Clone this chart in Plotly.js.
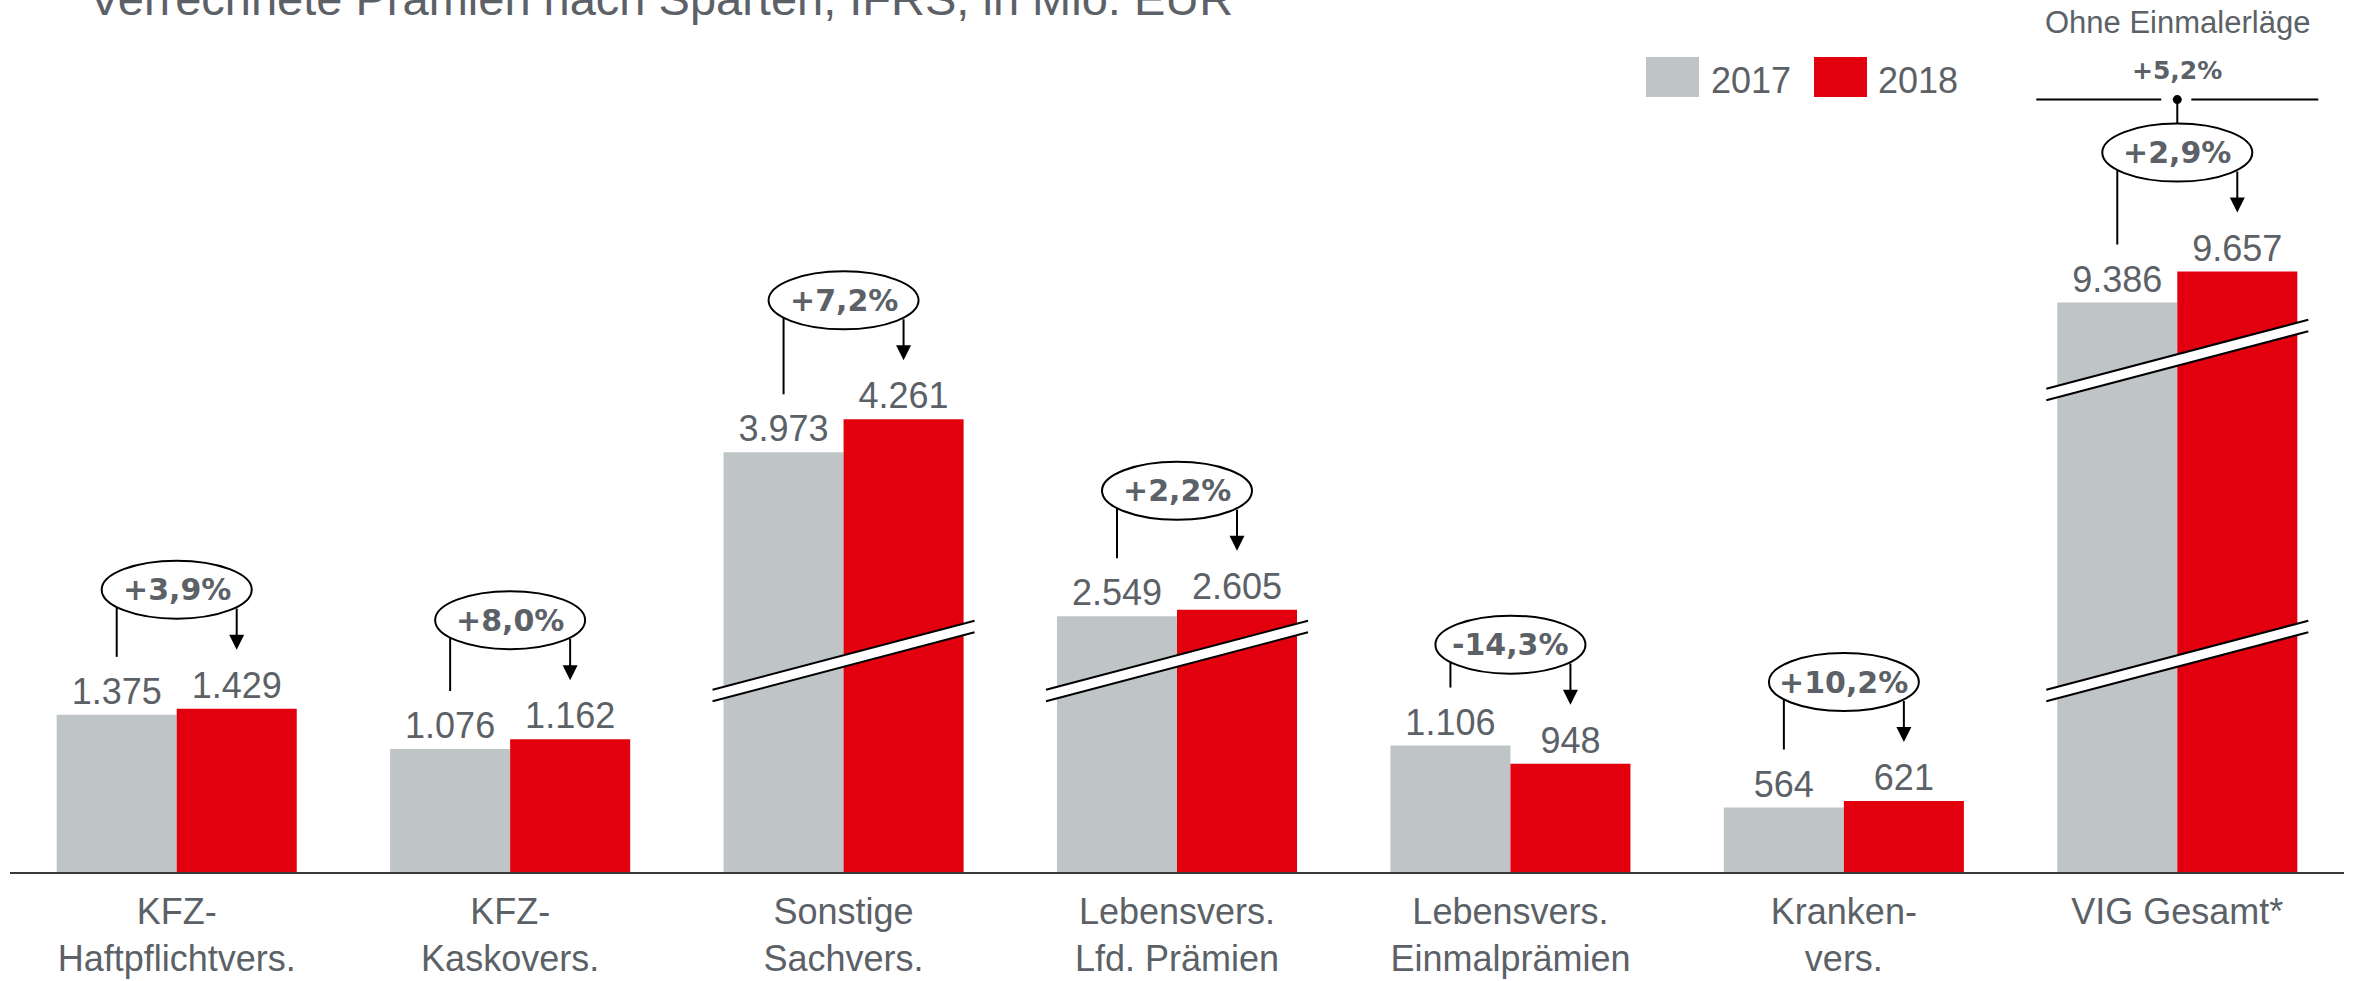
<!DOCTYPE html>
<html><head><meta charset="utf-8">
<script src="https://cdn.plot.ly/plotly-3.0.1.min.js"></script>
<style>html,body{margin:0;padding:0;background:#fff;} #chart{width:2354px;height:981px;}</style>
</head><body><div id="chart"></div>
<script>
// ---------- data ----------
const categories = ['KFZ-<br>Haftpflichtvers.', 'KFZ-<br>Kaskovers.', 'Sonstige<br>Sachvers.', 'Lebensvers.<br>Lfd. Prämien', 'Lebensvers.<br>Einmalprämien', 'Kranken-<br>vers.', 'VIG Gesamt*'];
const seriesNames = ['2017', '2018'];
const values2017 = [1375, 1076, 3973, 2549, 1106, 564, 9386];
const values2018 = [1429, 1162, 4261, 2605, 948, 621, 9657];
const changeLabels = ['+3,9%', '+8,0%', '+7,2%', '+2,2%', '-14,3%', '+10,2%', '+2,9%'];
const totalNote = 'Ohne Einmalerläge';
const totalNoteChange = '+5,2%';
const titleText = 'Verrechnete Prämien nach Sparten, IFRS, in Mio. EUR';

// ---------- display configuration ----------
const W = 2354, H = 981, M = {l: 10, r: 10, t: 0, b: 109};
const PX_PER_UNIT = 0.1143;
const axisBreak = [0, 0, 301, 311, 0, 0, 4404];      // amount cut out of broken bars
const CALLOUT_GAP = 119, LINE_GAP = 58, ARROW_GAP = 59;
const breakMarks = [
  {cat: 2, mid: 211}, {cat: 3, mid: 211}, {cat: 6, mid: 512}, {cat: 6, mid: 211}
];
const BREAK_RISE = 69, BREAK_THICK = 11.5;
const colors = ['#BFC4C7', '#E2000F'];
const textColor = '#5B6166';
const FONT = '"Liberation Sans", Arial, sans-serif';
const BOLDFONT = '"DejaVu Sans", sans-serif';

const plotW = W - M.l - M.r, plotH = H - M.t - M.b;
const catPx = plotW / categories.length;
const u = px => px / PX_PER_UNIT;
const cx = px => px / catPx;
const xp = px => (px - M.l) / plotW;
const yp = py => (M.t + plotH - py) / plotH;
const fmt = v => String(v).replace(/\B(?=(\d{3})+(?!\d))/g, '.');

const disp = [values2017, values2018].map(arr => arr.map((v, i) => v - axisBreak[i]));

const traces = [0, 1].map(k => ({
  type: 'bar', x: categories, y: disp[k], name: seriesNames[k],
  marker: {color: colors[k], line: {width: 0}},
  text: (k ? values2018 : values2017).map(fmt),
  textposition: 'outside', cliponaxis: false, constraintext: 'none',
  textfont: {family: FONT, size: 36, color: textColor},
  hoverinfo: 'skip', showlegend: false
}));

const shapes = [];
const annotations = [];

// break marks
breakMarks.forEach(b => {
  const x0 = b.cat - cx(131), x1 = b.cat + cx(131);
  const yl = u(b.mid - BREAK_RISE / 2), yr = u(b.mid + BREAK_RISE / 2);
  shapes.push({type: 'line', xref: 'x', yref: 'y', x0, x1, y0: yl, y1: yr, line: {color: '#fff', width: BREAK_THICK}});
  [-1, 1].forEach(s => shapes.push({type: 'line', xref: 'x', yref: 'y', x0, x1,
    y0: yl + s * u(BREAK_THICK / 2), y1: yr + s * u(BREAK_THICK / 2), line: {color: '#000', width: 2}}));
});

// change callouts
categories.forEach((c, i) => {
  const cy = disp[1][i] + u(CALLOUT_GAP);
  const start = cy - u(17.4);
  shapes.push({type: 'line', xref: 'x', yref: 'y', x0: i - cx(60), x1: i - cx(60), y0: start, y1: disp[0][i] + u(LINE_GAP), line: {color: '#000', width: 2}});
  shapes.push({type: 'circle', xref: 'x', yref: 'y', x0: i - cx(75), x1: i + cx(75), y0: cy - u(29), y1: cy + u(29), line: {color: '#000', width: 2}, fillcolor: '#fff'});
  annotations.push({x: i + cx(60), y: disp[1][i] + u(ARROW_GAP), ax: i + cx(60), ay: start, xref: 'x', yref: 'y', axref: 'x', ayref: 'y',
    text: '', showarrow: true, arrowhead: 2, arrowsize: 1.5, arrowwidth: 2, arrowcolor: '#000', standoff: 0});
  annotations.push({x: i, y: cy, xref: 'x', yref: 'y', text: '<b>' + changeLabels[i] + '</b>', showarrow: false,
    font: {family: BOLDFONT, size: 30, color: textColor}, xanchor: 'center', yanchor: 'middle'});
  if (i === categories.length - 1) {
    const top = cy + u(29), dotY = cy + u(29 + 24);
    shapes.push({type: 'line', xref: 'x', yref: 'y', x0: i, x1: i, y0: top, y1: dotY, line: {color: '#000', width: 2}});
    shapes.push({type: 'line', xref: 'x', yref: 'y', x0: i - cx(141), x1: i - cx(16), y0: dotY, y1: dotY, line: {color: '#000', width: 2}});
    shapes.push({type: 'line', xref: 'x', yref: 'y', x0: i + cx(14), x1: i + cx(141), y0: dotY, y1: dotY, line: {color: '#000', width: 2}});
    shapes.push({type: 'circle', xref: 'x', yref: 'y', xsizemode: 'pixel', ysizemode: 'pixel', xanchor: i, yanchor: dotY,
      x0: -4.5, x1: 4.5, y0: -4.5, y1: 4.5, fillcolor: '#000', line: {width: 0}});
    annotations.push({x: i, y: dotY, xref: 'x', yref: 'y', yshift: 29, text: '<b>' + totalNoteChange + '</b>', showarrow: false,
      font: {family: BOLDFONT, size: 25, color: textColor}, yanchor: 'middle'});
    annotations.push({x: i, y: dotY, xref: 'x', yref: 'y', yshift: 77, text: totalNote, showarrow: false,
      font: {family: FONT, size: 31, color: textColor}, yanchor: 'middle'});
  }
});

// legend
const legendBoxes = [[1646, 1710], [1814, 1877]];
seriesNames.forEach((n, k) => {
  shapes.push({type: 'rect', xref: 'paper', yref: 'paper', x0: xp(legendBoxes[k][0]), x1: xp(legendBoxes[k][0] + 53), y0: yp(97), y1: yp(57), fillcolor: colors[k], line: {width: 0}});
  annotations.push({xref: 'paper', yref: 'paper', x: xp(legendBoxes[k][1] - 1), y: yp(80.5), xanchor: 'left', yanchor: 'middle', text: n, showarrow: false,
    font: {family: FONT, size: 36, color: textColor}});
});

// title (cut off at the top as in the original)
annotations.push({xref: 'paper', yref: 'paper', x: xp(87), y: yp(27), xanchor: 'left', yanchor: 'bottom', text: titleText, showarrow: false,
  font: {family: FONT, size: 47, color: textColor}});

const layout = {
  width: W, height: H, margin: M, paper_bgcolor: '#fff', plot_bgcolor: '#fff',
  barmode: 'group', bargap: 0.28, bargroupgap: 0, showlegend: false,
  xaxis: {type: 'category', range: [-0.5, categories.length - 0.5], showline: true, linecolor: '#3A3A3A', linewidth: 2,
    ticks: '', ticklabelstandoff: 7, showgrid: false, zeroline: false, tickfont: {family: FONT, size: 36, color: textColor}, fixedrange: true},
  yaxis: {range: [0, plotH / PX_PER_UNIT], visible: false, fixedrange: true},
  shapes, annotations
};
Plotly.newPlot('chart', traces, layout, {displayModeBar: false, staticPlot: true});
</script></body></html>
